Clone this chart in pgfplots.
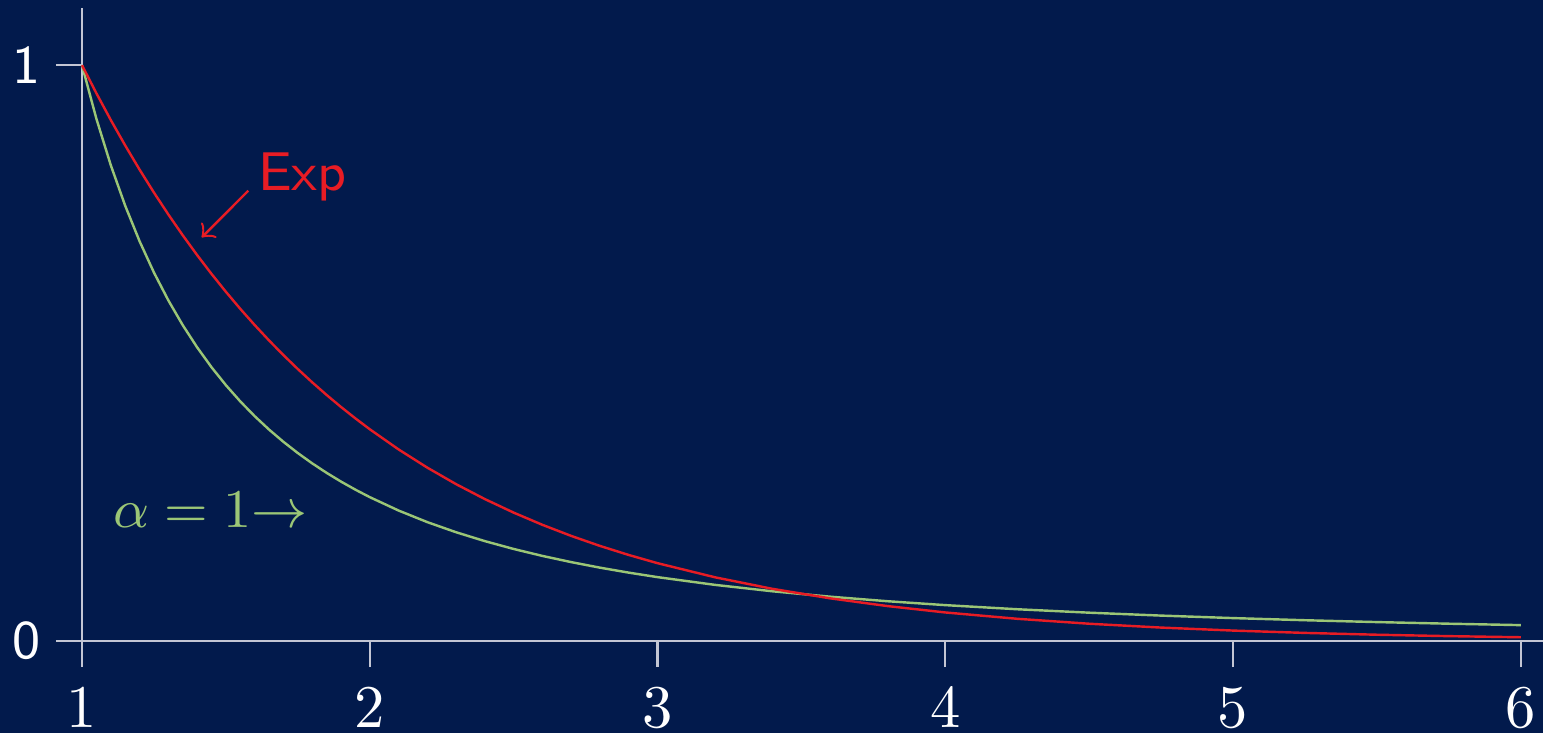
\documentclass[border=0pt]{standalone}
\usepackage{pgfplots}
\pgfplotsset{compat=1.18}
\definecolor{bg}{RGB}{2,26,76}
\definecolor{myred}{RGB}{232,28,36}
\definecolor{mygreen}{RGB}{155,198,118}
\definecolor{axiscol}{RGB}{195,198,212}
\begin{document}
\begin{tikzpicture}
\fill[bg] (-13.53pt,-15.18pt) rectangle (241.1pt,105.8pt);
\begin{axis}[
  at={(0,0)}, anchor=south west,
  scale only axis,
  width=241.1pt, height=104.46pt,
  xmin=1, xmax=6.077,
  ymin=0, ymax=1.099,
  axis x line=bottom, axis y line=left,
  axis line style={-, axiscol, line width=0.35pt},
  tick style={axiscol, line width=0.35pt},
  tick align=outside,
  major tick length=4.3pt,
  xtick={1,2,3,4,5,6},
  ytick={0,1},
  yticklabels={\textsf{0},\textsf{1}},
  ticklabel style={white},
  yticklabel style={font=\small, xshift=1pt},
  clip=false,
]
% alpha = 1 curve
\addplot[mygreen, line width=0.4pt] coordinates {
(1.0,1) (1.05,0.907029) (1.1,0.826446) (1.15,0.756144) (1.2,0.694444)
(1.25,0.64) (1.3,0.591716) (1.35,0.548697) (1.4,0.510204) (1.45,0.475624)
(1.5,0.444444) (1.55,0.416233) (1.6,0.390625) (1.65,0.367309) (1.7,0.346021)
(1.75,0.326531) (1.8,0.308642) (1.85,0.292184) (1.9,0.277008) (1.95,0.262985)
(2.0,0.25) (2.1,0.226757) (2.2,0.206612) (2.3,0.189036) (2.4,0.173611)
(2.5,0.16) (2.6,0.147929) (2.7,0.137174) (2.8,0.127551) (2.9,0.118906)
(3.0,0.111111) (3.2,0.097656) (3.4,0.086505) (3.6,0.077160) (3.8,0.069252)
(4.0,0.0625) (4.25,0.055363) (4.5,0.049383) (4.75,0.044321) (5.0,0.04)
(5.25,0.036281) (5.5,0.033058) (5.75,0.030246) (6.0,0.027778)
};
% exponential curve
\addplot[myred, line width=0.4pt] coordinates {
(1.0,1) (1.05,0.951229) (1.1,0.904837) (1.15,0.860708) (1.2,0.818731)
(1.25,0.778801) (1.3,0.740818) (1.35,0.704688) (1.4,0.670320) (1.45,0.637628)
(1.5,0.606531) (1.55,0.576950) (1.6,0.548812) (1.65,0.522046) (1.7,0.496585)
(1.75,0.472367) (1.8,0.449329) (1.85,0.427415) (1.9,0.406570) (1.95,0.386741)
(2.0,0.367879) (2.1,0.332871) (2.2,0.301194) (2.3,0.272532) (2.4,0.246597)
(2.5,0.223130) (2.6,0.201897) (2.7,0.182684) (2.8,0.165299) (2.9,0.149569)
(3.0,0.135335) (3.2,0.110803) (3.4,0.090718) (3.6,0.074274) (3.8,0.060810)
(4.0,0.049787) (4.25,0.038774) (4.5,0.030197) (4.75,0.023518) (5.0,0.018316)
(5.25,0.014264) (5.5,0.011109) (5.75,0.008652) (6.0,0.006738)
};
\draw[myred, ->, line width=0.4pt] (axis cs:1.578,0.782) -- (axis cs:1.416,0.701);
\node[myred, font=\sffamily\small, anchor=base west, inner sep=0pt] at (axis cs:1.608,0.783) {Exp};
\node[mygreen, font=\small, anchor=base west, inner sep=0pt] at (axis cs:1.104,0.198) {$\alpha=1{\rightarrow}$};
\end{axis}
\pgfresetboundingbox
\useasboundingbox (-13.53pt,-15.18pt) rectangle (241.1pt,105.8pt);
\end{tikzpicture}
\end{document}
